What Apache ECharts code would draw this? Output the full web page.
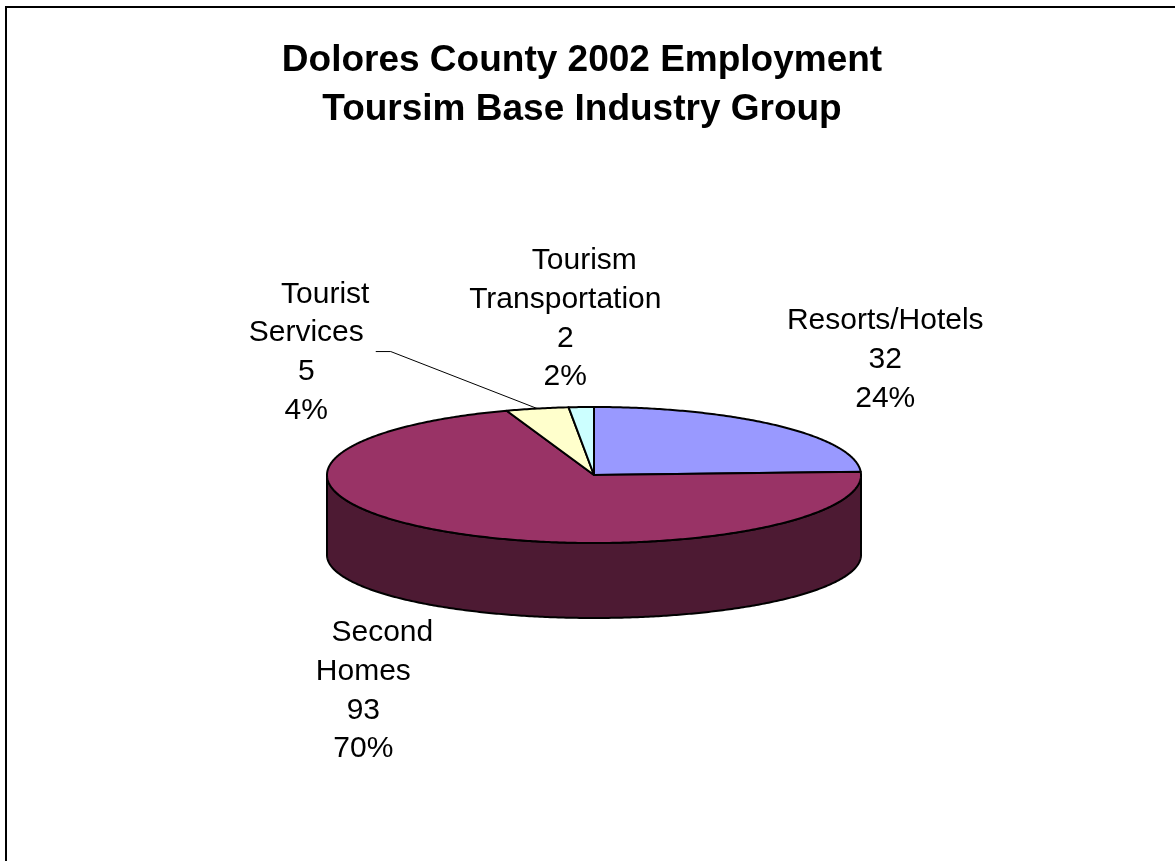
<!DOCTYPE html>
<html>
<head>
<meta charset="utf-8">
<title>Dolores County 2002 Employment</title>
<script src="https://cdn.jsdelivr.net/npm/echarts@6/dist/echarts.min.js"></script>
<style>
  html, body { margin: 0; padding: 0; background: #ffffff; }
  #chart { width: 1175px; height: 861px; }
</style>
</head>
<body>
<div id="chart"></div>
<script>
// Tourism base industry group, Dolores County, 2002 (jobs)
const categories = ['Resorts/Hotels', 'Second Homes', 'Tourist Services', 'Tourism Transportation'];
const employment = [32, 93, 5, 2];

// Slice styling (top face / outer wall)
const topColors = ['#9999ff', '#993366', '#ffffcc', '#ccffff'];
const wallColors = ['#4c4c80', '#4d1a33', '#808066', '#668080'];

// Tilted pie geometry in pixels
const PIE = { cx: 594, cy: 475, rx: 267, ry: 68, depth: 80, ryBottom: 63 };

// Label block placement relative to the slice's rim point, plus leader flag
const labelLayout = [
  { dx: 107, dy: -66, leader: false },
  { dx: -81, dy: 84, leader: false },
  { dx: -231, dy: -56, leader: true },
  { dx: -16, dy: -88, leader: false }
];
const FONT = '"Liberation Sans", Arial, sans-serif';
const LABEL_SIZE = 30;
const LINE_STEP = 38.7;
const WRAP_INDENT = 19;
const OUTLINE = 2;

const total = employment.reduce((s, v) => s + v, 0);
const startAngle = [];
const endAngle = [];
let acc = 0;
employment.forEach((v) => {
  startAngle.push(acc / total * Math.PI * 2);
  acc += v;
  endAngle.push(acc / total * Math.PI * 2);
});

// angle t measured clockwise from 12 o'clock
function topPt(t) {
  return [PIE.cx + PIE.rx * Math.sin(t), PIE.cy - PIE.ry * Math.cos(t)];
}
function botPt(t) {
  return [PIE.cx + PIE.rx * Math.sin(t), PIE.cy + PIE.depth - PIE.ryBottom * Math.cos(t)];
}
function arc(fn, a, b) {
  const n = Math.max(2, Math.ceil(Math.abs(b - a) / 0.01));
  const pts = [];
  for (let k = 0; k <= n; k++) pts.push(fn(a + (b - a) * k / n));
  return pts;
}

const measureCtx = document.createElement('canvas').getContext('2d');
function textWidth(s) {
  measureCtx.font = LABEL_SIZE + 'px ' + FONT;
  return measureCtx.measureText(s).width;
}

function renderItem(params, api) {
  const i = params.dataIndex;
  const a0 = startAngle[i];
  const a1 = endAngle[i];
  const children = [];

  // outer wall, visible on the front half only
  const va = Math.max(a0, Math.PI / 2);
  const vb = Math.min(a1, Math.PI * 3 / 2);
  if (vb > va) {
    children.push({
      type: 'polygon',
      z2: 5,
      shape: { points: arc(topPt, va, vb).concat(arc(botPt, vb, va)) },
      style: { fill: wallColors[i], stroke: '#000', lineWidth: OUTLINE, lineJoin: 'round' }
    });
  }

  // top face
  children.push({
    type: 'polygon',
    z2: 10,
    shape: { points: [[PIE.cx, PIE.cy]].concat(arc(topPt, a0, a1)) },
    style: { fill: topColors[i], stroke: '#000', lineWidth: OUTLINE, lineJoin: 'round' }
  });

  // data label: name (wrapped at spaces), value, percent
  const mid = (a0 + a1) / 2;
  const anchor = Math.cos(mid) < 0 ? botPt(mid) : topPt(mid);
  const lay = labelLayout[i];
  const nameLines = api.value(1) ? String(categories[i]).split(' ') : [categories[i]];
  const value = api.value(0);
  const lines = nameLines.concat([String(value), Math.round(value / total * 100) + '%']);
  const bx = anchor[0] + lay.dx;
  const by = anchor[1] + lay.dy;
  const firstY = by - (lines.length - 1) * LINE_STEP / 2;
  lines.forEach((txt, k) => {
    const indent = (k === 0 && nameLines.length > 1) ? WRAP_INDENT : 0;
    children.push({
      type: 'text',
      z2: 20,
      x: bx + indent,
      y: firstY + k * LINE_STEP,
      style: {
        text: txt,
        fill: '#000',
        font: LABEL_SIZE + 'px ' + FONT,
        align: 'center',
        verticalAlign: 'middle'
      }
    });
  });

  if (lay.leader) {
    const w = Math.max.apply(null, lines.slice(1).concat(nameLines.slice(1)).map(textWidth));
    const sx = bx + w / 2 + 12;
    children.push({
      type: 'polyline',
      z2: 15,
      shape: { points: [[sx, by - 1], [sx + 15, by - 1], [anchor[0], anchor[1]]] },
      style: { stroke: '#000', lineWidth: 1, fill: null }
    });
  }

  return { type: 'group', children: children };
}

const chart = echarts.init(document.getElementById('chart'), null, { renderer: 'canvas' });
chart.setOption({
  backgroundColor: '#ffffff',
  animation: false,
  title: {
    text: 'Dolores County 2002 Employment\nToursim Base Industry Group',
    left: 582,
    top: 36,
    padding: 0,
    textAlign: 'center',
    textStyle: {
      fontFamily: FONT,
      fontSize: 37,
      fontWeight: 'bold',
      color: '#000',
      lineHeight: 49
    }
  },
  graphic: [{
    type: 'rect',
    silent: true,
    shape: { x: 6, y: 7, width: 1200, height: 900 },
    style: { fill: null, stroke: '#000', lineWidth: 2 }
  }],
  series: [{
    type: 'custom',
    coordinateSystem: 'none',
    silent: true,
    renderItem: renderItem,
    data: employment.map((v, i) => ({
      name: categories[i],
      // second dimension: wrap the name when it has several words
      value: [v, categories[i].indexOf(' ') >= 0 ? 1 : 0]
    }))
  }]
});
</script>
</body>
</html>
